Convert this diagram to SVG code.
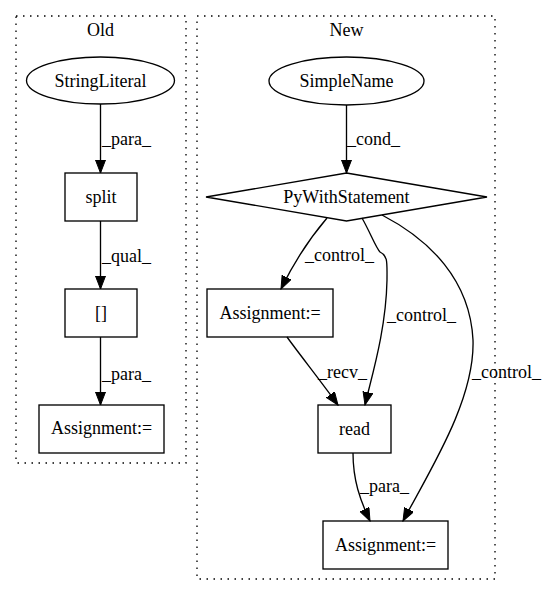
<svg xmlns="http://www.w3.org/2000/svg" width="547" height="596" viewBox="0 0 547 596">
<style>
text{font-family:"Liberation Serif","Times New Roman",serif;font-size:18px;fill:#000}
.n{text-anchor:middle}
.shape{fill:none;stroke:#000;stroke-width:1.33}
.cl{fill:none;stroke:#000;stroke-width:1.33;stroke-dasharray:1.5,5.5}
.e{fill:none;stroke:#000;stroke-width:1.33}
</style>
<defs>
<marker id="ah" markerUnits="userSpaceOnUse" markerWidth="14" markerHeight="12" refX="13" refY="5" orient="auto">
<path d="M0,0 L13,5 L0,10 Z" fill="#000" stroke="#000" stroke-width="1"/>
</marker>
</defs>
<rect width="547" height="596" fill="#fff"/>
<g id="cluster_old">
<rect class="cl" x="16" y="16" width="170" height="447"/>
<text class="n" x="100.5" y="36">Old</text>
</g>
<g id="cluster_new">
<rect class="cl" x="197" y="16" width="298" height="563"/>
<text class="n" x="346.5" y="36">New</text>
</g>
<g id="edges">
<path class="e" d="M100.5,104 L100.5,173" marker-end="url(#ah)"/>
<text x="102" y="145">_para_</text>
<path class="e" d="M100.5,221 L100.5,289" marker-end="url(#ah)"/>
<text x="102" y="262">_qual_</text>
<path class="e" d="M100.5,337 L100.5,405" marker-end="url(#ah)"/>
<text x="102" y="380">_para_</text>
<path class="e" d="M346.5,105 L346.5,173" marker-end="url(#ah)"/>
<text x="347" y="145">_cond_</text>
<path class="e" d="M327,218 C310,238 295,260 281,289" marker-end="url(#ah)"/>
<text x="305" y="261">_control_</text>
<path class="e" d="M362,218 C370,232 376,248 380,252 C388,256 387,262 387,280 C386,330 372,375 365,405" marker-end="url(#ah)"/>
<text x="387" y="321">_control_</text>
<path class="e" d="M382,215 C430,240 470,280 473,340 C475,400 430,470 403,521" marker-end="url(#ah)"/>
<text x="472" y="378">_control_</text>
<path class="e" d="M287,337 C300,355 320,380 338,405" marker-end="url(#ah)"/>
<text x="318" y="378">_recv_</text>
<path class="e" d="M353,453 C353,480 360,500 370,521" marker-end="url(#ah)"/>
<text x="360" y="492">_para_</text>
</g>
<g id="StringLiteral">
<ellipse class="shape" cx="100.5" cy="80.5" rx="74" ry="23.5"/>
<text class="n" x="100.5" y="86.5">StringLiteral</text>
</g>
<g id="split">
<rect class="shape" x="65" y="173" width="72" height="48"/>
<text class="n" x="101" y="203">split</text>
</g>
<g id="index">
<rect class="shape" x="65" y="289" width="72" height="48"/>
<text class="n" x="101" y="319">[]</text>
</g>
<g id="AssignmentOld">
<rect class="shape" x="39" y="405" width="125" height="48"/>
<text class="n" x="101.5" y="434">Assignment:=</text>
</g>
<g id="SimpleName">
<ellipse class="shape" cx="346.5" cy="81" rx="77.5" ry="24"/>
<text class="n" x="346.5" y="87">SimpleName</text>
</g>
<g id="PyWithStatement">
<polygon class="shape" points="346.5,173 487,197 346.5,221 206,197"/>
<text class="n" x="346.5" y="203">PyWithStatement</text>
</g>
<g id="AssignmentTop">
<rect class="shape" x="207" y="289" width="126" height="48"/>
<text class="n" x="270" y="319">Assignment:=</text>
</g>
<g id="read">
<rect class="shape" x="318" y="405" width="73" height="48"/>
<text class="n" x="354.5" y="435">read</text>
</g>
<g id="AssignmentBottom">
<rect class="shape" x="323" y="521" width="125" height="48"/>
<text class="n" x="385.5" y="551">Assignment:=</text>
</g>
</svg>
